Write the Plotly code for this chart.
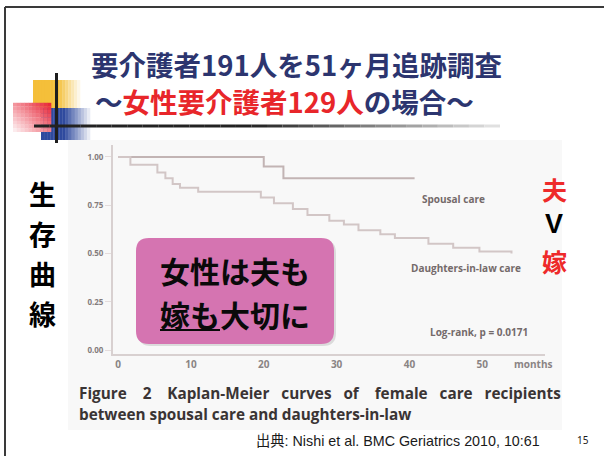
import plotly.graph_objects as go

W, H = 604, 456

# ---- data ----
spousal_months = [0, 20.0, 22.7, 40.7]
spousal_surv = [1.00, 0.95, 0.89, 0.89]

daughter_months = [0, 1.7, 5.4, 6.5, 7.5, 8.5, 11.0, 19.6, 21.4, 24.0, 26.0,
                   29.0, 31.0, 33.0, 36.0, 38.0, 42.6, 46.0, 49.6, 54.0]
daughter_surv = [1.00, 0.96, 0.92, 0.89, 0.86, 0.84, 0.82, 0.79, 0.76, 0.73, 0.70,
                 0.67, 0.65, 0.62, 0.60, 0.58, 0.55, 0.53, 0.51, 0.50]

x_ticks = [0, 10, 20, 30, 40, 50]
y_ticks = [0.0, 0.25, 0.5, 0.75, 1.0]
y_tick_labels = ["0.00", "0.25", "0.50", "0.75", "1.00"]

title1 = "要介護者191人を51ヶ月追跡調査"
title2_a, title2_b, title2_c = "～", "女性要介護者129人", "の場合～"


def px(x):
    return x / W


def py(y):
    return 1 - y / H


fig = go.Figure()

fig.add_trace(go.Scatter(x=spousal_months, y=spousal_surv, mode="lines",
                         line=dict(color="#c2b4b4", width=2, shape="hv"),
                         showlegend=False, hoverinfo="skip"))
fig.add_trace(go.Scatter(x=daughter_months, y=daughter_surv, mode="lines",
                         line=dict(color="#d2c6c6", width=2, shape="hv"),
                         showlegend=False, hoverinfo="skip"))

shapes = []
annotations = []

# image background
shapes.append(dict(type="rect", xref="paper", yref="paper", layer="below",
                   x0=px(68), x1=px(562), y0=py(430), y1=py(140),
                   fillcolor="#f8f8f8", line=dict(width=0)))

# slide frame
shapes.append(dict(type="line", xref="paper", yref="paper", x0=px(5), x1=px(5),
                   y0=py(7), y1=py(456), line=dict(color="#3a3a3a", width=2)))
shapes.append(dict(type="line", xref="paper", yref="paper", x0=px(5), x1=px(604),
                   y0=py(7), y1=py(7), line=dict(color="#3a3a3a", width=2)))


def hex2rgb(h):
    h = h.lstrip("#")
    return tuple(int(h[i:i + 2], 16) for i in (0, 2, 4))


def mix(c, t):
    # t=0 -> colour, t=1 -> white
    return "rgb(%d,%d,%d)" % tuple(int(v + (255 - v) * t) for v in c)


def grad_rect(x0, x1, y0, y1, col, solid_until, n=16):
    c = hex2rgb(col)
    for i in range(n):
        a = x0 + (x1 - x0) * i / n
        b = x0 + (x1 - x0) * (i + 1) / n
        m = (a + b) / 2
        t = 0 if m <= solid_until else (m - solid_until) / (x1 - solid_until)
        shapes.append(dict(type="rect", xref="paper", yref="paper",
                           x0=px(a), x1=px(b) + 0.0005, y0=py(y1), y1=py(y0),
                           fillcolor=mix(c, min(1, t * 0.95)), line=dict(width=0)))


# decoration squares
grad_rect(33, 80, 80, 108, "#f4bf3a", 58)
grad_rect(41, 90, 108, 140, "#2f4a9e", 64)
# red square with diagonal gradient
rc = hex2rgb("#e8283a")
nx, ny = 10, 8
for i in range(nx):
    for j in range(ny):
        a = 13 + 38 * i / nx
        b = 13 + 38 * (i + 1) / nx
        c0 = 103 + 29 * j / ny
        c1 = 103 + 29 * (j + 1) / ny
        u = (i + 0.5) / nx
        v = (j + 0.5) / ny
        t = max(0, min(1, (1 - u) * 0.6 + v * 0.5 - 0.05))
        shapes.append(dict(type="rect", xref="paper", yref="paper",
                           x0=px(a), x1=px(b) + 0.0005, y0=py(c1), y1=py(c0) + 0.0005,
                           fillcolor=mix(rc, t * 0.92), line=dict(width=0)))
# cross lines
shapes.append(dict(type="line", xref="paper", yref="paper", x0=px(56.5), x1=px(56.5),
                   y0=py(73), y1=py(143), line=dict(color="#1e1e1e", width=3)))
nseg = 30
for i in range(nseg):
    a = 34 + (500 - 34) * i / nseg
    b = 34 + (500 - 34) * (i + 1) / nseg
    t = max(0, (i / nseg - 0.45) / 0.55) if i / nseg > 0.45 else 0
    shapes.append(dict(type="line", xref="paper", yref="paper", x0=px(a), x1=px(b),
                       y0=py(126), y1=py(126),
                       line=dict(color=mix((34, 34, 34), t * 0.92), width=3)))

# titles
tfont = dict(family="Noto Sans CJK JP", size=27.5, color="#2c356f", weight="bold")
annotations.append(dict(text=title1, xref="paper", yref="paper", x=px(296), y=py(64),
                        xanchor="center", yanchor="middle", showarrow=False, font=tfont))
annotations.append(dict(
    text=("<span style='color:#2c356f'>%s</span><span style='color:#e8262a'>%s</span>"
          "<span style='color:#2c356f'>%s</span>") % (title2_a, title2_b, title2_c),
    xref="paper", yref="paper", x=px(284), y=py(101), xanchor="center",
    yanchor="middle", showarrow=False, font=tfont))

# vertical left label
for ch, yy in zip("生存曲線", [193, 233, 273, 313]):
    annotations.append(dict(text=ch, xref="paper", yref="paper", x=px(42), y=py(yy),
                            xanchor="center", yanchor="middle", showarrow=False,
                            font=dict(family="Noto Sans CJK JP", size=27, color="#000000",
                                      weight="bold")))
# right labels
for ch, yy, col, fam, sz in [("夫", 189, "#ee2a2a", "Noto Sans CJK JP", 25),
                             ("V", 224, "#000000", "Liberation Sans", 27),
                             ("嫁", 261, "#ee2a2a", "Noto Sans CJK JP", 25)]:
    annotations.append(dict(text=ch, xref="paper", yref="paper", x=px(554), y=py(yy),
                            xanchor="center", yanchor="middle", showarrow=False,
                            font=dict(family=fam, size=sz, color=col, weight="bold")))

# chart inner labels
lab_font = dict(family="Open Sans", size=10, color="#746a6a", weight="bold")
annotations.append(dict(text="Spousal care", x=46.0, y=0.78, xref="x", yref="y",
                        showarrow=False, font=lab_font, xanchor="center"))
annotations.append(dict(text="Daughters-in-law care", x=47.7, y=0.425, xref="x", yref="y",
                        showarrow=False, font=lab_font, xanchor="center"))
annotations.append(dict(text="Log-rank, p = 0.0171", x=49.5, y=0.093, xref="x", yref="y",
                        showarrow=False, font=lab_font, xanchor="center"))
annotations.append(dict(text="months", x=57.0, y=py(364), xref="x", yref="paper",
                        showarrow=False, yanchor="middle",
                        font=dict(family="Open Sans", size=10, color="#8a8484",
                                  weight="bold")))

# caption
cfont = dict(family="Open Sans", size=15.3, color="#3a3434", weight="bold")
annotations.append(dict(
    text="Figure    2    Kaplan-Meier   curves   of    female   care   recipients",
    xref="paper", yref="paper", x=px(77), y=py(393), xanchor="left",
    yanchor="middle", showarrow=False, font=cfont))
annotations.append(dict(text="between spousal care and daughters-in-law",
                        xref="paper", yref="paper", x=px(77), y=py(414), xanchor="left",
                        yanchor="middle", showarrow=False, font=cfont))

# pink rounded box
def rounded(x0, y0, x1, y1, r):
    X = px
    Y = py
    return ("M %f,%f L %f,%f Q %f,%f %f,%f L %f,%f Q %f,%f %f,%f L %f,%f Q %f,%f %f,%f "
            "L %f,%f Q %f,%f %f,%f Z") % (
        X(x0 + r), Y(y0), X(x1 - r), Y(y0), X(x1), Y(y0), X(x1), Y(y0 + r),
        X(x1), Y(y1 - r), X(x1), Y(y1), X(x1 - r), Y(y1),
        X(x0 + r), Y(y1), X(x0), Y(y1), X(x0), Y(y1 - r),
        X(x0), Y(y0 + r), X(x0), Y(y0), X(x0 + r), Y(y0))


shapes.append(dict(type="path", xref="paper", yref="paper", layer="above",
                   path=rounded(138, 240, 336, 346, 13), fillcolor="rgba(120,120,120,0.22)",
                   line=dict(width=0)))
shapes.append(dict(type="path", xref="paper", yref="paper", layer="above",
                   path=rounded(136, 238, 334, 344, 13), fillcolor="#d574b1",
                   line=dict(width=0)))
bfont = dict(family="Noto Sans CJK JP", size=30, color="#0a0a0a", weight="bold")
annotations.append(dict(text="女性は夫も", xref="paper", yref="paper", x=px(235), y=py(269.5),
                        xanchor="center", yanchor="middle", showarrow=False, font=bfont))
annotations.append(dict(text="嫁も大切に", xref="paper", yref="paper", x=px(235), y=py(313.5),
                        xanchor="center", yanchor="middle", showarrow=False, font=bfont))
shapes.append(dict(type="line", xref="paper", yref="paper", layer="above",
                   x0=px(160), x1=px(220), y0=py(330), y1=py(330),
                   line=dict(color="#0a0a0a", width=2)))

# footer
annotations.append(dict(text="出典: Nishi et al. BMC Geriatrics 2010, 10:61", xref="paper",
                        yref="paper", x=px(254), y=py(441), xanchor="left", yanchor="middle",
                        showarrow=False,
                        font=dict(family="Liberation Sans, Noto Sans CJK JP", size=14.3,
                                  color="#1a1a1a")))
annotations.append(dict(text="15", xref="paper", yref="paper", x=px(583), y=py(440),
                        xanchor="center", yanchor="middle", showarrow=False,
                        font=dict(family="Noto Sans", size=10, color="#1a1a1a")))

fig.update_layout(
    width=W, height=H, margin=dict(l=0, r=0, t=0, b=0),
    paper_bgcolor="#ffffff", plot_bgcolor="rgba(0,0,0,0)",
    shapes=shapes, annotations=annotations, showlegend=False,
    xaxis=dict(domain=[px(113), px(545)], range=[-0.69, 58.6], tickvals=x_ticks,
               showgrid=False, zeroline=False, showline=True, linecolor="#d8d0d0",
               linewidth=2, ticks="", tickfont=dict(family="Open Sans", size=10,
                                                    color="#8a8484", weight="bold"),
               fixedrange=True),
    yaxis=dict(domain=[py(354), py(145)], range=[-0.0207, 1.062], tickvals=y_ticks,
               ticktext=y_tick_labels, showgrid=False, zeroline=False, showline=True,
               linecolor="#d8d0d0", linewidth=2, ticks="outside", ticklen=6,
               tickcolor="#e4dcdc", tickfont=dict(family="Open Sans", size=8,
                                                  color="#847c7c", weight="bold"),
               fixedrange=True),
)

fig.write_html("out.html")
